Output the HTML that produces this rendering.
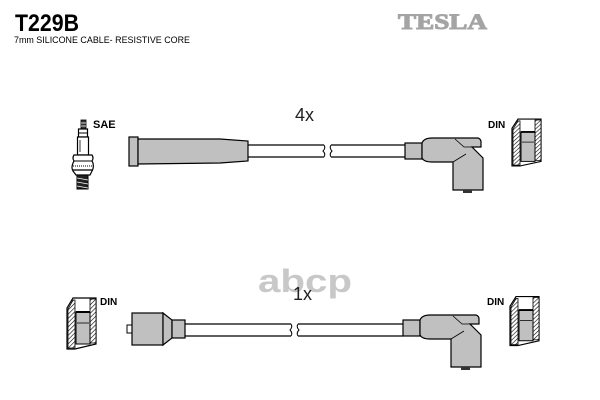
<!DOCTYPE html>
<html><head><meta charset="utf-8"><style>
html,body{margin:0;padding:0;background:#fff;}
svg{display:block;}
</style></head><body>
<svg width="600" height="400" viewBox="0 0 600 400" xmlns="http://www.w3.org/2000/svg">
<defs>
<pattern id="h" width="3" height="3" patternUnits="userSpaceOnUse" patternTransform="rotate(45)">
<rect width="3" height="3" fill="#fff"/><line x1="0" y1="0" x2="0" y2="3" stroke="#000" stroke-width="1.2"/>
</pattern>
<g id="din">
<polygon points="67,308 73,298 96,298 96,344 75,349 67,349" fill="#fff" stroke="#000" stroke-width="1.2"/>
<polygon points="68,309 73,300 75,300 75,348 68,348" fill="url(#h)" stroke="#000" stroke-width="0.8"/>
<rect x="90" y="299" width="6" height="44" fill="url(#h)" stroke="#000" stroke-width="0.8"/>
<rect x="76" y="312" width="14" height="32" fill="#c0c0c0" stroke="#000" stroke-width="1"/>
<line x1="76" y1="312" x2="90" y2="312" stroke="#000" stroke-width="2"/>
<line x1="77" y1="323" x2="89" y2="323" stroke="#000" stroke-width="0.8"/>
</g>
<g id="ang">
<rect x="405" y="143" width="17" height="16" fill="#c0c0c0" stroke="#000" stroke-width="1.2"/>
<path d="M422,143 Q424,138 432,138 L478,138 Q481,139 481,142 L481,147 L472,147 L483,158 L483,190 L453,190 L453,162 L432,162 Q424,162 422,158 Z" fill="#c0c0c0" stroke="#000" stroke-width="1.2"/>
<polyline points="455,139 464,147 472,147" fill="none" stroke="#000" stroke-width="0.8"/>
<line x1="453" y1="162" x2="466" y2="154" stroke="#000" stroke-width="0.8"/>
<rect x="463" y="190" width="9" height="3" fill="#333"/>
</g>
</defs>

<!-- header -->
<text x="15" y="31" font-family="Liberation Sans, sans-serif" font-weight="bold" font-size="24" textLength="64" lengthAdjust="spacingAndGlyphs" fill="#000">T229B</text>
<text x="14" y="43" font-family="Liberation Sans, sans-serif" font-size="9.5" textLength="176" lengthAdjust="spacingAndGlyphs" fill="#000">7mm SILICONE CABLE- RESISTIVE CORE</text>
<text x="398" y="29" font-family="Liberation Serif, serif" font-weight="bold" font-size="22" textLength="89" lengthAdjust="spacingAndGlyphs" fill="#a4a4a4" stroke="#a4a4a4" stroke-width="1">TESLA</text>

<!-- watermark -->
<text x="258" y="292" font-family="Liberation Sans, sans-serif" font-weight="bold" font-size="32" textLength="94" lengthAdjust="spacingAndGlyphs" fill="#c8c8c8">abcp</text>

<!-- top row -->
<text x="93" y="128" font-family="Liberation Sans, sans-serif" font-weight="bold" font-size="11" fill="#000">SAE</text>
<!-- spark plug -->
<rect x="81" y="120" width="5" height="9" fill="#333" stroke="#000" stroke-width="0.8"/>
<line x1="81" y1="123" x2="86" y2="123" stroke="#fff" stroke-width="0.8"/>
<line x1="81" y1="126" x2="86" y2="126" stroke="#fff" stroke-width="0.8"/>
<rect x="78.5" y="129" width="9" height="8" fill="#fff" stroke="#000" stroke-width="1.2"/>
<line x1="78.5" y1="133" x2="87.5" y2="133" stroke="#000" stroke-width="1"/>
<rect x="77.5" y="137" width="11" height="18" fill="#fff" stroke="#000" stroke-width="1.2"/>
<line x1="80" y1="140" x2="80" y2="152" stroke="#000" stroke-width="0.8"/>
<path d="M74,155 L92,155 Q94,158 92,161 L93,163 Q94,168 92,171 L90,175 L76,175 L73,171 Q71,168 73,163 L74,161 Q72,158 74,155 Z" fill="#fff" stroke="#000" stroke-width="1.2"/>
<line x1="74" y1="161" x2="92" y2="161" stroke="#000" stroke-width="1"/>
<line x1="73" y1="166" x2="93" y2="166" stroke="#000" stroke-width="1" stroke-dasharray="1,1"/>
<line x1="73" y1="170" x2="93" y2="170" stroke="#000" stroke-width="1.2"/>
<rect x="77" y="175" width="11" height="14" fill="#222" stroke="#000" stroke-width="1"/>
<line x1="77" y1="178" x2="88" y2="180" stroke="#fff" stroke-width="0.8"/>
<line x1="77" y1="182" x2="88" y2="184" stroke="#fff" stroke-width="0.8"/>
<line x1="77" y1="186" x2="88" y2="188" stroke="#fff" stroke-width="0.8"/>

<!-- straight boot -->
<rect x="129" y="137" width="9" height="29" fill="#c0c0c0" stroke="#000" stroke-width="1.2"/>
<polygon points="138,139 220,139 248,141 248,161 220,163 138,164" fill="#c0c0c0" stroke="#000" stroke-width="1.2"/>
<!-- cable top -->
<line x1="248" y1="145" x2="324" y2="145" stroke="#000" stroke-width="1.3"/>
<line x1="248" y1="157" x2="324" y2="157" stroke="#000" stroke-width="1.3"/>
<line x1="331" y1="145" x2="405" y2="145" stroke="#000" stroke-width="1.3"/>
<line x1="331" y1="157" x2="405" y2="157" stroke="#000" stroke-width="1.3"/>
<path d="M324,145 Q326,148 323,151 Q326,154 324,157 M331,145 Q329,148 332,151 Q329,154 331,157" fill="none" stroke="#000" stroke-width="1"/>
<text x="295" y="121" font-family="Liberation Sans, sans-serif" font-size="18" fill="#222">4x</text>

<use href="#ang"/>
<text x="488" y="128" font-family="Liberation Sans, sans-serif" font-weight="bold" font-size="10" fill="#000">DIN</text>
<use href="#din" transform="translate(445,-179) scale(1,0.92) translate(0,26)"/>

<!-- bottom row -->
<use href="#din"/>
<text x="100" y="305" font-family="Liberation Sans, sans-serif" font-weight="bold" font-size="10" fill="#000">DIN</text>
<rect x="127" y="325" width="6" height="8" fill="#fff" stroke="#000" stroke-width="1"/>
<rect x="132" y="313" width="31" height="32" fill="#c0c0c0" stroke="#000" stroke-width="1.2"/>
<polygon points="163,313 172,320 172,338 163,345" fill="#c0c0c0" stroke="#000" stroke-width="1.2"/>
<rect x="172" y="320" width="13" height="18" fill="#c0c0c0" stroke="#000" stroke-width="1.2"/>
<line x1="185" y1="324" x2="291" y2="324" stroke="#000" stroke-width="1.3"/>
<line x1="185" y1="336" x2="291" y2="336" stroke="#000" stroke-width="1.3"/>
<line x1="298" y1="324" x2="403" y2="324" stroke="#000" stroke-width="1.3"/>
<line x1="298" y1="336" x2="403" y2="336" stroke="#000" stroke-width="1.3"/>
<path d="M291,324 Q293,327 290,330 Q293,333 291,336 M298,324 Q296,327 299,330 Q296,333 298,336" fill="none" stroke="#000" stroke-width="1"/>
<text x="293" y="300" font-family="Liberation Sans, sans-serif" font-size="18" fill="#222">1x</text>

<use href="#ang" transform="translate(-2,177)"/>
<text x="487" y="305" font-family="Liberation Sans, sans-serif" font-weight="bold" font-size="10" fill="#000">DIN</text>
<use href="#din" transform="translate(443,-1) scale(1,0.96) translate(0,12)"/>
</svg>
</body></html>
